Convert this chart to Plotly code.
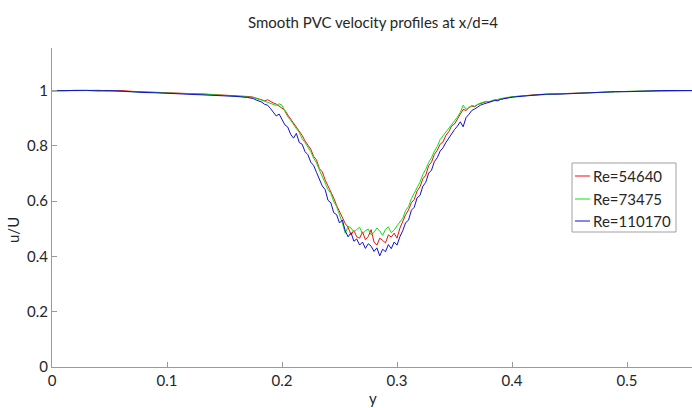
import numpy as np
import plotly.graph_objects as go

# sample positions (y coordinate across the wake)
x_a = np.round(np.arange(0.0, 0.175, 0.01), 4)            # 0.00 .. 0.17
x_b = np.round(0.1725 + 0.0025 * np.arange(91), 4)        # 0.1725 .. 0.3975
x_c = np.round(np.append(np.arange(0.40, 0.555, 0.01), 0.557), 4)
x_vals = np.concatenate([x_a, x_b, x_c])

series_names = ["Re=54640", "Re=73475", "Re=110170"]

red_a = [1.000, 1.001, 1.000, 1.000, 1.001, 0.999, 1.000, 0.997, 0.995, 0.993,
         0.992, 0.990, 0.989, 0.988, 0.986, 0.984, 0.982, 0.979]
red_b = [0.978, 0.976, 0.973, 0.971, 0.966, 0.963, 0.967, 0.960, 0.955, 0.951,
         0.944, 0.938, 0.929, 0.912, 0.897, 0.884, 0.870, 0.852, 0.838, 0.818,
         0.801, 0.788, 0.762, 0.749, 0.718, 0.706, 0.677, 0.655, 0.638, 0.611,
         0.584, 0.561, 0.536, 0.519, 0.505, 0.478, 0.494, 0.471, 0.466, 0.489,
         0.461, 0.472, 0.497, 0.452, 0.441, 0.466, 0.458, 0.449, 0.478, 0.470,
         0.484, 0.466, 0.502, 0.527, 0.551, 0.568, 0.594, 0.606, 0.637, 0.652,
         0.681, 0.694, 0.728, 0.741, 0.769, 0.784, 0.806, 0.814, 0.838, 0.851,
         0.872, 0.879, 0.896, 0.911, 0.932, 0.928, 0.938, 0.944, 0.941, 0.949,
         0.953, 0.955, 0.960, 0.958, 0.963, 0.966, 0.965, 0.970, 0.971, 0.974,
         0.975]
red_c = [0.977, 0.982, 0.985, 0.987, 0.988, 0.990, 0.991, 0.993, 0.994, 0.996,
         0.997, 0.998, 0.999, 1.000, 0.999, 1.000, 1.000]

green_a = [1.000, 0.999, 1.001, 1.000, 1.000, 1.000, 0.998, 0.996, 0.994, 0.993,
           0.991, 0.990, 0.988, 0.987, 0.985, 0.983, 0.980, 0.977]
green_b = [0.976, 0.975, 0.970, 0.968, 0.965, 0.961, 0.958, 0.955, 0.950, 0.946,
           0.952, 0.947, 0.925, 0.905, 0.893, 0.876, 0.862, 0.849, 0.826, 0.812,
           0.795, 0.779, 0.756, 0.738, 0.713, 0.690, 0.667, 0.642, 0.628, 0.598,
           0.580, 0.553, 0.521, 0.484, 0.509, 0.503, 0.488, 0.497, 0.506, 0.481,
           0.493, 0.499, 0.478, 0.487, 0.503, 0.492, 0.476, 0.498, 0.507, 0.486,
           0.495, 0.511, 0.524, 0.538, 0.566, 0.580, 0.609, 0.628, 0.651, 0.669,
           0.697, 0.715, 0.740, 0.757, 0.781, 0.798, 0.823, 0.836, 0.852, 0.866,
           0.879, 0.889, 0.904, 0.921, 0.947, 0.932, 0.940, 0.946, 0.944, 0.951,
           0.955, 0.958, 0.961, 0.960, 0.965, 0.967, 0.968, 0.971, 0.972, 0.975,
           0.976]
green_c = [0.978, 0.981, 0.984, 0.986, 0.988, 0.989, 0.991, 0.992, 0.994, 0.995,
           0.997, 0.998, 0.998, 0.999, 1.000, 1.000, 1.000]

blue_a = [0.999, 1.000, 1.000, 1.001, 0.999, 1.000, 0.998, 0.995, 0.993, 0.992,
          0.990, 0.989, 0.987, 0.986, 0.984, 0.981, 0.979, 0.975]
blue_b = [0.974, 0.971, 0.966, 0.962, 0.958, 0.950, 0.947, 0.935, 0.921, 0.908,
          0.915, 0.897, 0.876, 0.868, 0.842, 0.828, 0.845, 0.812, 0.806, 0.779,
          0.768, 0.741, 0.729, 0.704, 0.682, 0.655, 0.642, 0.603, 0.594, 0.558,
          0.551, 0.521, 0.532, 0.492, 0.471, 0.486, 0.455, 0.463, 0.441, 0.452,
          0.429, 0.446, 0.437, 0.418, 0.431, 0.402, 0.426, 0.417, 0.443, 0.428,
          0.452, 0.441, 0.471, 0.493, 0.522, 0.531, 0.567, 0.578, 0.612, 0.621,
          0.654, 0.668, 0.701, 0.712, 0.743, 0.757, 0.781, 0.793, 0.812, 0.828,
          0.846, 0.859, 0.871, 0.887, 0.869, 0.902, 0.914, 0.928, 0.933, 0.941,
          0.947, 0.951, 0.955, 0.957, 0.961, 0.964, 0.963, 0.968, 0.970, 0.972,
          0.974]
blue_c = [0.976, 0.980, 0.984, 0.987, 0.987, 0.989, 0.991, 0.992, 0.993, 0.996,
          0.996, 0.998, 0.999, 1.000, 1.000, 0.999, 1.000]

series_values = [red_a + red_b + red_c,
                 green_a + green_b + green_c,
                 blue_a + blue_b + blue_c]
series_colors = ["#f01010", "#10e010", "#1010d0"]

y_ticks = [0, 0.2, 0.4, 0.6, 0.8, 1]
y_tick_labels = ["0", "0.2", "0.4", "0.6", "0.8", "1"]
x_ticks = [0, 0.1, 0.2, 0.3, 0.4, 0.5]
x_tick_labels = ["0", "0.1", "0.2", "0.3", "0.4", "0.5"]

FONT = "Lato, 'Open Sans', sans-serif"
TXT = "#262626"

fig = go.Figure()
for name, vals, col in zip(series_names, series_values, series_colors):
    fig.add_trace(go.Scatter(x=x_vals, y=vals, mode="lines", name=name,
                             line=dict(color=col, width=1), showlegend=False))

W, H = 692, 408
L, R, T, B = 52, 0, 48, 41
pw, ph = W - L - R, H - T - B

def px(xp):
    return (xp - L) / pw

def py(yp):
    return (H - B - yp) / ph

fig.update_layout(
    width=W, height=H,
    margin=dict(l=L, r=R, t=T, b=B),
    paper_bgcolor="white", plot_bgcolor="white",
    font=dict(family=FONT, size=15, color=TXT),
    xaxis=dict(range=[0, 0.5565], tickvals=x_ticks, ticktext=x_tick_labels,
               showgrid=False, zeroline=False, showline=True, linecolor="#9a9a9a",
               linewidth=1, ticks="inside", ticklen=5, tickcolor="#9a9a9a",
               tickfont=dict(family=FONT, size=15, color=TXT)),
    yaxis=dict(range=[0, 1.154], tickvals=y_ticks, ticktext=y_tick_labels,
               showgrid=False, zeroline=False, showline=True, linecolor="#9a9a9a",
               linewidth=1, ticks="inside", ticklen=5, tickcolor="#9a9a9a",
               tickfont=dict(family=FONT, size=15, color=TXT)),
)

annotations = [
    dict(text="Smooth PVC velocity profiles at x/d=4", x=px(373), y=py(22),
         xref="paper", yref="paper", showarrow=False, xanchor="center",
         yanchor="middle", font=dict(family=FONT, size=15, color=TXT)),
    dict(text="y", x=px(373), y=py(398), xref="paper", yref="paper",
         showarrow=False, xanchor="center", yanchor="middle",
         font=dict(family=FONT, size=15, color=TXT)),
    dict(text="u/U", x=px(13), y=py(230), xref="paper", yref="paper",
         showarrow=False, xanchor="center", yanchor="middle", textangle=-90,
         font=dict(family=FONT, size=15, color=TXT)),
]

shapes = [dict(type="rect", xref="paper", yref="paper",
               x0=px(572), x1=px(676), y0=py(232), y1=py(163),
               line=dict(color="#a0a0a0", width=1), fillcolor="white", layer="above")]
entry_y = [176, 199, 221]
for name, col, ey in zip(series_names, series_colors, entry_y):
    shapes.append(dict(type="line", xref="paper", yref="paper",
                       x0=px(575), x1=px(590), y0=py(ey), y1=py(ey),
                       line=dict(color=col, width=1), layer="above"))
    annotations.append(dict(text=name, x=px(591), y=py(ey), xref="paper", yref="paper",
                            showarrow=False, xanchor="left", yanchor="middle",
                            font=dict(family=FONT, size=15, color=TXT)))

fig.update_layout(annotations=annotations, shapes=shapes)
fig.write_html("out.html")
